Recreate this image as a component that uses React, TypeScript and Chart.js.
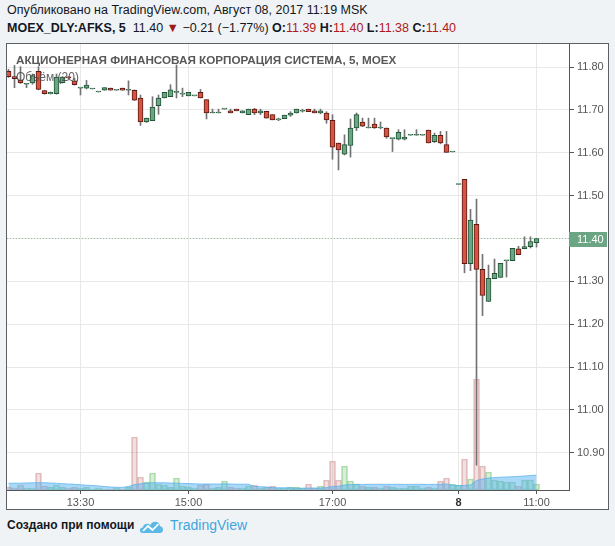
import React, { useEffect, useRef } from 'react';
import { Chart, registerables } from 'chart.js';

Chart.register(...registerables);

// ---- categories (5-minute candles) ----
const day1Times = [
  '12:30','12:35','12:40','12:45','12:50','12:55',
  '13:00','13:05','13:10','13:15','13:20','13:25','13:30','13:35','13:40','13:45','13:50','13:55',
  '14:00','14:05','14:10','14:15','14:20','14:25','14:30','14:35','14:40','14:45','14:50','14:55',
  '15:00','15:05','15:10','15:15','15:20','15:25','15:30','15:35','15:40','15:45','15:50','15:55',
  '16:00','16:05','16:10','16:15','16:20','16:25','16:30','16:35','16:40','16:45','16:50','16:55',
  '17:00','17:05','17:10','17:15','17:20','17:25','17:30','17:35','17:40','17:45','17:50','17:55',
  '18:00','18:05','18:10','18:15','18:20','18:25','18:30','18:35','18:40',
];
const day2Times = ['09:55','10:00','10:05','10:10','10:15','10:20','10:25','10:30','10:35','10:40','10:45','10:50','10:55','11:00'];
const categories = [...day1Times, ...day2Times];

// ---- tick labels ----
const xTickTimes = ['13:30', '15:00', '17:00', '09:55', '11:00'];
const xTickTexts = ['13:30', '15:00', '17:00', '8', '11:00'];
const priceTicks = [10.9, 11.0, 11.1, 11.2, 11.3, 11.4, 11.5, 11.6, 11.7, 11.8];

// ---- OHLC ----
const opens = [
  11.790,11.778,11.770,11.760,11.763,11.790,11.745,11.738,11.738,11.764,
  11.776,11.768,11.751,11.751,11.749,11.742,11.746,11.751,11.746,11.751,
  11.746,11.746,11.728,11.672,11.675,11.710,11.728,11.731,11.741,11.737,
  11.733,11.733,11.741,11.724,11.693,11.693,11.702,11.698,11.702,11.693,
  11.689,11.702,11.693,11.697,11.689,11.677,11.680,11.688,11.693,11.697,
  11.702,11.698,11.693,11.693,11.676,11.623,11.597,11.617,11.658,11.672,
  11.658,11.667,11.658,11.658,11.633,11.632,11.632,11.641,11.641,11.641,
  11.653,11.626,11.641,11.619,11.602,
  11.526,11.538,11.341,11.433,11.328,11.253,11.306,11.309,11.348,11.348,11.376,11.376,11.381,11.390,
];
const highs = [
  11.795,11.804,11.801,11.762,11.784,11.801,11.746,11.742,11.784,11.778,
  11.778,11.774,11.752,11.769,11.750,11.743,11.752,11.751,11.746,11.751,
  11.768,11.747,11.735,11.681,11.731,11.735,11.741,11.759,11.805,11.751,
  11.741,11.733,11.748,11.724,11.702,11.702,11.702,11.702,11.702,11.698,
  11.702,11.704,11.702,11.697,11.689,11.681,11.688,11.696,11.702,11.702,
  11.702,11.702,11.702,11.696,11.689,11.623,11.642,11.679,11.693,11.681,
  11.681,11.681,11.672,11.658,11.633,11.654,11.654,11.641,11.654,11.641,
  11.653,11.646,11.650,11.650,11.602,
  11.526,11.538,11.468,11.492,11.363,11.338,11.352,11.342,11.348,11.377,11.382,11.404,11.404,11.400,
];
const lows = [
  11.776,11.752,11.762,11.752,11.760,11.747,11.737,11.737,11.737,11.763,
  11.770,11.758,11.735,11.749,11.749,11.742,11.746,11.746,11.746,11.746,
  11.735,11.722,11.664,11.671,11.675,11.690,11.728,11.731,11.728,11.731,
  11.733,11.733,11.728,11.679,11.693,11.693,11.702,11.693,11.698,11.693,
  11.689,11.689,11.689,11.681,11.677,11.675,11.680,11.685,11.693,11.695,
  11.696,11.693,11.691,11.669,11.585,11.560,11.595,11.590,11.652,11.661,
  11.658,11.657,11.656,11.634,11.603,11.630,11.630,11.641,11.641,11.641,
  11.623,11.624,11.621,11.601,11.602,
  11.526,11.320,11.325,10.871,11.220,11.253,11.306,11.309,11.310,11.348,11.362,11.376,11.378,11.380,
];
const closes = [
  11.778,11.773,11.763,11.762,11.780,11.748,11.738,11.741,11.777,11.777,
  11.775,11.759,11.751,11.758,11.749,11.742,11.752,11.746,11.746,11.746,
  11.746,11.723,11.672,11.681,11.707,11.728,11.741,11.747,11.741,11.737,
  11.741,11.733,11.728,11.693,11.693,11.693,11.702,11.693,11.698,11.698,
  11.702,11.693,11.698,11.681,11.677,11.677,11.688,11.693,11.702,11.697,
  11.696,11.693,11.698,11.677,11.613,11.607,11.619,11.658,11.689,11.662,
  11.658,11.658,11.658,11.637,11.633,11.648,11.637,11.641,11.641,11.641,
  11.623,11.641,11.623,11.601,11.602,
  11.526,11.341,11.443,11.328,11.267,11.307,11.319,11.342,11.348,11.377,11.362,11.381,11.393,11.400,
];

// ---- volume and its 20-period average ----
const volumes = [
  30,20,50,20,20,170,40,30,50,30,
  20,30,20,30,10,20,10,10,20,10,
  30,530,130,80,170,60,50,30,120,40,
  30,20,50,60,20,30,90,30,20,20,
  40,50,20,30,40,20,20,30,30,20,
  60,20,40,100,290,100,240,90,60,40,
  30,30,20,40,30,20,20,40,40,20,
  30,20,90,120,60,
  50,310,110,1110,240,180,100,90,80,80,40,100,100,60,
];
const volumeMA = [
  67,68,68,70,72,73,73,70,67,63,
  60,57,52,48,45,40,35,30,27,27,
  35,55,62,68,73,73,72,70,68,66,
  64,62,60,60,60,60,62,60,58,58,
  58,35,33,30,24,22,22,22,18,18,
  20,20,20,24,35,38,50,54,56,56,
  57,57,57,57,57,57,56,56,57,57,
  56,56,58,60,48,
  44,46,50,95,110,120,124,128,130,133,136,140,145,148,
];

const FONT = '"Liberation Sans", Arial, sans-serif';
const UP_FILL = '#6ba583';
const UP_BORDER = '#225437';
const DOWN_FILL = '#d75442';
const DOWN_BORDER = '#5b1a13';
const WICK = '#737375';
const RED_TEXT = '#b0181b';

export default function App() {
  const ref = useRef<HTMLCanvasElement>(null);

  useEffect(() => {
    const canvas = ref.current;
    if (!canvas) return;
    const isUp = categories.map((_, i) => closes[i] >= opens[i]);
    const bodies = categories.map((_, i) => ({ x: i, y: [opens[i], closes[i]] }));
    const wicks = categories.map((_, i) => ({ x: i, y: [lows[i], highs[i]] }));
    const vols = categories.map((_, i) => ({ x: i, y: volumes[i] }));
    const ma = categories.map((_, i) => ({ x: i, y: volumeMA[i] }));
    const lastClose = closes[closes.length - 1];
    const xMin = -0.25;
    const xMax = 93.4167;
    const lastLine = [{ x: xMin, y: lastClose }, { x: xMax, y: lastClose }];
    const xTickValues = xTickTimes.map((t) => categories.indexOf(t));
    const day2Start = day1Times.length;

    const lastPricePlugin = {
      id: 'lastPriceLabel',
      afterDraw(chart: any) {
        const y = chart.scales.y.getPixelForValue(lastClose);
        const ctx = chart.ctx;
        const left = chart.chartArea.right;
        ctx.save();
        ctx.fillStyle = UP_FILL;
        ctx.fillRect(left, Math.round(y) - 7, 38, 15);
        ctx.fillStyle = '#ffffff';
        ctx.font = `11px ${FONT}`;
        ctx.textBaseline = 'middle';
        ctx.textAlign = 'left';
        ctx.fillText(lastClose.toFixed(2), left + 8, Math.round(y) + 0.5);
        ctx.restore();
      },
    };

    const chart = new Chart(canvas, {
      type: 'bar',
      data: {
        datasets: [
          {
            type: 'bar',
            label: 'body',
            data: bodies,
            xAxisID: 'x',
            yAxisID: 'y',
            backgroundColor: isUp.map((u) => (u ? UP_FILL : DOWN_FILL)),
            borderColor: isUp.map((u) => (u ? UP_BORDER : DOWN_BORDER)),
            borderWidth: 1,
            borderSkipped: false,
            barThickness: 5,
            minBarLength: 1,
            grouped: false,
            order: 1,
          },
          {
            type: 'bar',
            label: 'wick',
            data: wicks,
            xAxisID: 'x',
            yAxisID: 'y',
            backgroundColor: WICK,
            borderWidth: 0,
            barThickness: 1,
            grouped: false,
            order: 2,
          },
          {
            type: 'line',
            label: 'last',
            data: lastLine,
            xAxisID: 'x',
            yAxisID: 'y',
            borderColor: '#8cc79b',
            borderDash: [1, 2],
            borderWidth: 1,
            pointRadius: 0,
            order: 3,
          },
          {
            type: 'line',
            label: 'Объём MA',
            data: ma,
            xAxisID: 'x',
            yAxisID: 'yv',
            fill: 'origin',
            backgroundColor: 'rgba(86,178,240,0.5)',
            borderColor: 'rgba(86,178,240,0.75)',
            borderWidth: 1,
            pointRadius: 0,
            tension: 0,
            order: 4,
          },
          {
            type: 'bar',
            label: 'Объём',
            data: vols,
            xAxisID: 'x',
            yAxisID: 'yv',
            backgroundColor: isUp.map((u) => (u ? 'rgba(140,205,140,0.35)' : 'rgba(200,130,130,0.25)')),
            borderColor: isUp.map((u) => (u ? 'rgba(110,190,110,0.55)' : 'rgba(190,120,120,0.45)')),
            borderWidth: 1,
            borderSkipped: false,
            barThickness: 6,
            grouped: false,
            order: 5,
          },
        ],
      } as any,
      options: {
        animation: false,
        responsive: false,
        maintainAspectRatio: false,
        events: [],
        layout: { padding: 0 },
        plugins: { legend: { display: false }, tooltip: { enabled: false } },
        scales: {
          x: {
            type: 'linear',
            position: 'bottom',
            min: xMin,
            max: xMax,
            offset: false,
            afterBuildTicks: (s: any) => {
              s.ticks = xTickValues.map((v) => ({ value: v }));
            },
            afterFit: (s: any) => {
              s.height = 19;
              s.paddingLeft = 0;
              s.paddingRight = 0;
            },
            grid: { color: '#e8e8e8', offset: false, tickColor: '#555', tickLength: 4, drawTicks: true },
            border: { display: true, color: '#555', width: 1 },
            ticks: {
              autoSkip: false,
              maxRotation: 0,
              padding: 2,
              color: (c: any) => (c.tick && c.tick.value === day2Start ? '#333' : '#555'),
              font: (c: any) => ({ family: FONT, size: 11, weight: c.tick && c.tick.value === day2Start ? 'bold' : 'normal' }),
              callback: (v: any) => {
                const k = xTickValues.indexOf(v);
                return k >= 0 ? xTickTexts[k] : '';
              },
            },
          },
          y: {
            type: 'linear',
            position: 'right',
            min: 10.813,
            max: 11.854,
            afterBuildTicks: (s: any) => {
              s.ticks = priceTicks.map((v) => ({ value: v }));
            },
            afterFit: (s: any) => {
              s.width = 39;
              s.paddingTop = 0;
              s.paddingBottom = 0;
            },
            grid: { color: '#e8e8e8', tickColor: '#555', tickLength: 5, drawTicks: true },
            border: { display: true, color: '#555', width: 1 },
            ticks: {
              padding: 3,
              color: '#555',
              font: { family: FONT, size: 11 },
              callback: (v: any) => Number(v).toFixed(2),
            },
          },
          yv: {
            type: 'linear',
            display: false,
            min: 0,
            max: 4460,
          },
        },
      } as any,
      plugins: [lastPricePlugin],
    });
    return () => chart.destroy();
  }, []);

  return (
    <div
      style={{
        position: 'fixed',
        left: 0,
        top: 0,
        width: 615,
        height: 546,
        background: '#f0f3f6',
        overflow: 'hidden',
        fontFamily: FONT,
        color: '#131722',
      }}
    >
      <div style={{ position: 'absolute', left: 7, top: 3, fontSize: 12.5, whiteSpace: 'nowrap' }}>
        Опубликовано на TradingView.com, Август 08, 2017 11:19 MSK
      </div>
      <div style={{ position: 'absolute', left: 7, top: 21, fontSize: 12.5, whiteSpace: 'nowrap' }}>
        <b>MOEX_DLY:AFKS, 5</b>
        {'\u00a0 11.40 '}
        <span style={{ color: '#9b1c1c' }}>▼</span>
        {' −0.21 (−1.77%) '}
        <b>O:</b>
        <span style={{ color: RED_TEXT }}>11.39</span> <b>H:</b>
        <span style={{ color: RED_TEXT }}>11.40</span> <b>L:</b>
        <span style={{ color: RED_TEXT }}>11.38</span> <b>C:</b>
        <span style={{ color: RED_TEXT }}>11.40</span>
      </div>

      <div
        style={{
          position: 'absolute',
          left: 6,
          top: 43,
          width: 601,
          height: 465,
          border: '1px solid #5d5f66',
          background: '#ffffff',
        }}
      >
        <canvas ref={ref} width={601} height={465} style={{ display: 'block', width: 601, height: 465 }} />
        <div
          style={{
            position: 'absolute',
            left: 9,
            top: 9,
            fontSize: 11.7,
            fontWeight: 'bold',
            color: 'rgba(70,70,70,0.9)',
            whiteSpace: 'nowrap',
          }}
        >
          АКЦИОНЕРНАЯ ФИНАНСОВАЯ КОРПОРАЦИЯ СИСТЕМА, 5, MOEX
        </div>
        <div
          style={{
            position: 'absolute',
            left: 9,
            top: 26,
            fontSize: 12,
            color: 'rgba(70,70,70,0.85)',
            whiteSpace: 'nowrap',
          }}
        >
          Объём (20)
        </div>
      </div>

      <div style={{ position: 'absolute', left: 7, top: 518, fontSize: 12, fontWeight: 'bold', whiteSpace: 'nowrap' }}>
        Создано при помощи
      </div>
      <svg style={{ position: 'absolute', left: 139, top: 518 }} width="25" height="16" viewBox="0 0 25 16">
        <path
          d="M3.5 15 C0 15 0 9.5 3.8 9.5 C4.2 5.5 9 4.5 11.2 7.2 C13 2.5 20.5 2.5 21 8.2 C25 8.2 25 15 21 15 Z"
          fill="#5cb8e6"
        />
        <polyline points="4,13 9,8 13.5,12 19.5,6" stroke="#ffffff" strokeWidth="1.7" fill="none" />
      </svg>
      <div style={{ position: 'absolute', left: 170, top: 517, fontSize: 14, color: '#3fa6de', whiteSpace: 'nowrap' }}>
        TradingView
      </div>
    </div>
  );
}
